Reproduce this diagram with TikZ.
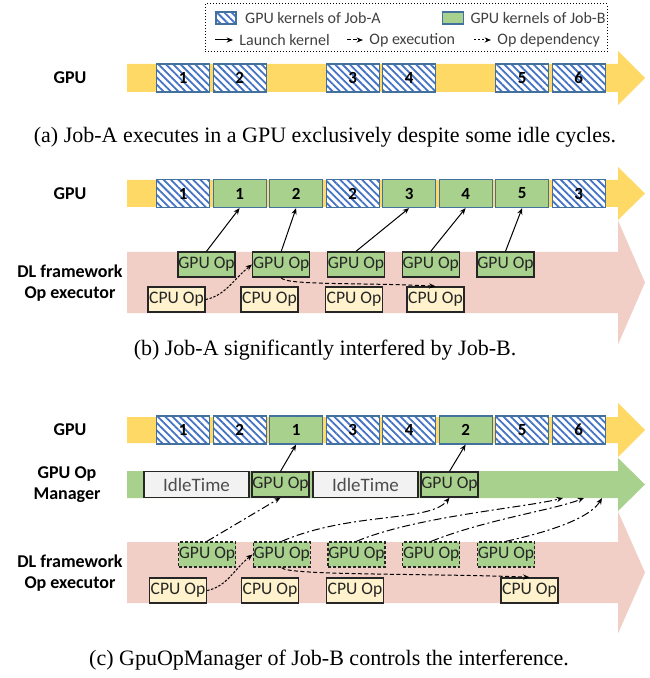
\documentclass[tikz,border=0pt]{standalone}
\usepackage{fontspec}
\setmainfont{Liberation Serif}
\setsansfont{Carlito}
\usetikzlibrary{arrows.meta,patterns.meta}

\definecolor{gpuyellow}{RGB}{255,217,102}
\definecolor{hostpink}{RGB}{241,206,198}
\definecolor{jobbgreen}{RGB}{169,209,142}
\definecolor{hatchblue}{RGB}{68,114,196}
\definecolor{edgeblue}{RGB}{65,113,156}
\definecolor{cpucream}{RGB}{255,242,204}
\definecolor{idlegray}{RGB}{242,242,242}

\newcommand{\lanearrow}[4]{\fill[#1] (127,#2-#3) -- (618,#2-#3) -- (618,#2-#4) -- (645,#2) -- (618,#2+#4) -- (618,#2+#3) -- (127,#2+#3) -- cycle;}

\tikzset{
  kernel/.style={anchor=west, minimum width=26.5pt, minimum height=14pt, inner sep=0pt, line width=0.6pt, draw=edgeblue, font=\sffamily\bfseries\fontsize{8.5}{8.5}\selectfont},
  jobA/.style={kernel, preaction={fill=white}, pattern={Lines[angle=-45,distance=2.6pt,line width=0.9pt]}, pattern color=hatchblue},
  jobB/.style={kernel, fill=jobbgreen},
  opbox/.style={minimum width=28.5pt, minimum height=12.5pt, inner sep=0pt, line width=0.7pt, draw=black!85, text=black!85, font=\sffamily\fontsize{8.8}{8.8}\selectfont},
  gpuop/.style={opbox, fill=jobbgreen},
  waitop/.style={gpuop, dash pattern=on 1.5pt off 1pt},
  cpuop/.style={opbox, fill=cpucream},
  idlebox/.style={opbox, minimum width=52.5pt, minimum height=13pt, fill=idlegray, text=black!70, font=\sffamily\fontsize{9.5}{9.5}\selectfont},
  lane/.style={font=\sffamily\bfseries\fontsize{9}{10.5}\selectfont, align=center},
  caption/.style={font=\fontsize{11}{13}\selectfont},
  launch/.style={-{Stealth[length=3.2pt,width=2.6pt]}, line width=0.5pt},
  opexec/.style={launch, dash pattern=on 2pt off 1.2pt},
  opdep/.style={launch, dash pattern=on 1.2pt off 0.8pt},
  handoff/.style={launch, dash pattern=on 4pt off 1.5pt on 1pt off 1.5pt},
  legendtext/.style={anchor=west, inner sep=0pt, text=black!75, font=\sffamily\fontsize{8}{9}\selectfont},
}

\begin{document}
\begin{tikzpicture}[x=0.5pt,y=-0.5pt]
  \useasboundingbox (0,0) rectangle (649,678);

  % legend
  \draw[densely dotted, line width=0.5pt] (205,4) rectangle (607,52);
  \node[jobA, minimum width=10pt, minimum height=6pt] (swA) at (215,18) {};
  \node[legendtext] (txA) at ([xshift=4pt]swA.east) {GPU kernels of Job-A};
  \node[jobB, minimum width=10.5pt, minimum height=6pt] (swB) at (442,18) {};
  \node[legendtext] (txB) at ([xshift=3pt]swB.east) {GPU kernels of Job-B};
  \coordinate (lgL) at (215,40);
  \node[legendtext] (txL) at (239,40) {Launch kernel};
  \draw[launch] (lgL) -- ([xshift=-3pt]txL.west);
  \coordinate (lgE) at (347,40);
  \node[legendtext] (txE) at (369,40) {Op execution};
  \draw[opexec] (lgE) -- ([xshift=-3pt]txE.west);
  \coordinate (lgD) at (474,40);
  \node[legendtext] (txD) at (497,40) {Op dependency};
  \draw[opdep] (lgD) -- ([xshift=-3pt]txD.west);

  % (a)
  \lanearrow{gpuyellow}{78}{14}{27}
  \node[lane] (gpuA) at (70,78) {GPU};
  \foreach \s/\n in {1/1,2/2,4/3,5/4,7/5,8/6}
    \node[jobA] (ak\s) at ({156+56.5*(\s-1)},78) {\n};
  \node[caption] (capA) at (325,137) {(a) Job-A executes in a GPU exclusively despite some idle cycles.};

  % (b)
  \lanearrow{hostpink}{282.5}{30.5}{62}
  \lanearrow{gpuyellow}{193.5}{13.5}{26.5}
  \node[lane] (gpuB) at (70,193.5) {GPU};
  \node[lane] (execB) at (70,283) {DL framework\\Op executor};
  \foreach \s/\n in {1/1,4/2,8/3}
    \node[jobA] (bk\s) at ({156+56.5*(\s-1)},193.5) {\n};
  \foreach \s/\n in {2/1,3/2,5/3,6/4,7/5}
    \node[jobB] (bk\s) at ({156+56.5*(\s-1)},193.5) {\n};
  \foreach \i in {1,...,5}
    \node[gpuop] (bg\i) at ({206.5+74.75*(\i-1)},264.5) {GPU Op};
  \foreach \i/\x in {1/176.5,2/269.5,3/354,4/435.5}
    \node[cpuop] (bc\i) at (\x,299.5) {CPU Op};
  \foreach \i/\s in {1/2,2/3,3/5,4/6,5/7}
    \draw[launch] (bg\i.north) -- (bk\s.south);
  \draw[opdep] (bc1.east) .. controls +(20,-4) and +(-18,14) .. (bg2.west);
  \draw[opexec] (bg2.south) .. controls +(4,8) and +(-70,-4) .. (bc4.north);
  \node[caption] (capB) at (325,350) {(b) Job-A significantly interfered by Job-B.};

  % (c)
  \lanearrow{hostpink}{572.5}{30.5}{61}
  \lanearrow{jobbgreen}{484.5}{13.5}{26.5}
  \lanearrow{gpuyellow}{430}{13}{27}
  \node[lane] (gpuC) at (70,430) {GPU};
  \node[lane] (mgrC) at (67,485) {GPU Op\\Manager};
  \node[lane] (execC) at (70,573) {DL framework\\Op executor};
  \foreach \s/\n in {1/1,2/2,4/3,5/4,7/5,8/6}
    \node[jobA] (ck\s) at ({156+56.5*(\s-1)},430) {\n};
  \foreach \s/\n in {3/1,6/2}
    \node[jobB] (ck\s) at ({156+56.5*(\s-1)},430) {\n};
  \node[idlebox] (ci1) at (196.5,484.5) {IdleTime};
  \node[gpuop] (cm1) at (280.5,484.5) {GPU Op};
  \node[idlebox] (ci2) at (365.5,484.5) {IdleTime};
  \node[gpuop] (cm2) at (449.5,484.5) {GPU Op};
  \draw[launch] (cm1.north) -- (ck3.south);
  \draw[launch] (cm2.north) -- (ck6.south);
  \foreach \i in {1,...,5}
    \node[waitop] (cg\i) at ({207+74.75*(\i-1)},554.5) {GPU Op};
  \foreach \i/\x in {1/178,2/270,3/355,4/529.5}
    \node[cpuop] (cc\i) at (\x,590.5) {CPU Op};
  \draw[opdep] (cc1.east) .. controls +(20,-4) and +(-18,14) .. (cg2.west);
  \draw[opexec] (cg2.south) .. controls +(4,8) and +(-90,-4) .. (cc4.north);
  \coordinate (mq3) at (563,498);
  \coordinate (mq4) at (584,498);
  \coordinate (mq5) at (602,498);
  \draw[handoff] (cg1.north) -- (cm1.south);
  \draw[handoff] (cg2.north) .. controls +(70,-30) and +(-20,25) .. (cm2.south);
  \draw[handoff] (cg3.north) .. controls +(60,-25) and +(-40,10) .. (mq3);
  \draw[handoff] (cg4.north) .. controls +(55,-22) and +(-30,12) .. (mq4);
  \draw[handoff] (cg5.north) .. controls +(45,-10) and +(-12,20) .. (mq5);
  \node[caption] (capC) at (329,660) {(c) GpuOpManager of Job-B controls the interference.};
\end{tikzpicture}
\end{document}
